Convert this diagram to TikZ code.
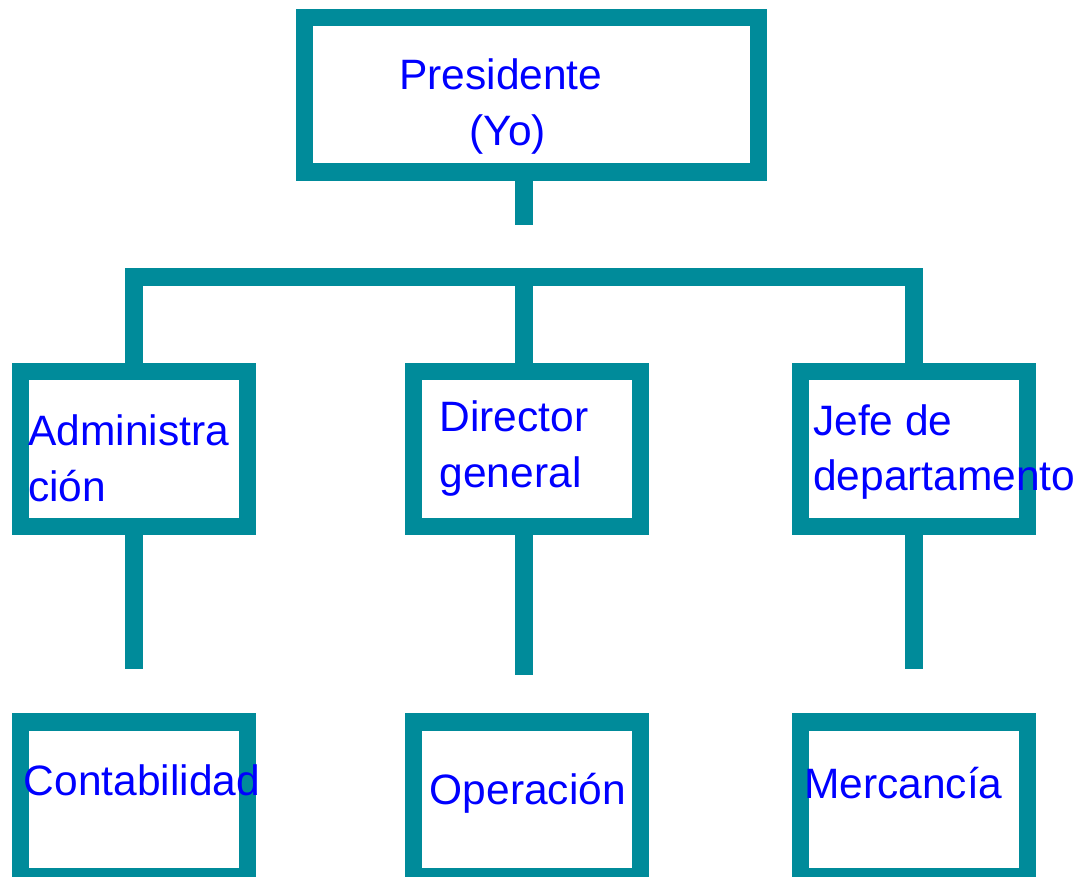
\documentclass[tikz,border=0pt]{standalone}
\usepackage{fontspec}
\setmainfont{Liberation Sans}
\definecolor{teal}{RGB}{0,139,154}
\definecolor{txtblue}{RGB}{0,0,255}
\begin{document}
\begin{tikzpicture}[x=1pt,y=-1pt,
  orgbox/.style={draw=teal,line width=17.4pt,rectangle,inner sep=0pt,minimum width=227pt,minimum height=155pt},
  conn/.style={draw=teal,line width=17.4pt,line cap=butt,line join=miter},
  lbl/.style={text=txtblue,anchor=base west,inner sep=0pt,font=\fontsize{42.5}{56}\selectfont}]
\useasboundingbox (0,0) rectangle (1084,877);
% boxes
\node[orgbox,minimum width=454.4pt,minimum height=154.4pt] (pres) at (531.5,95) {};
\node[orgbox] (adm) at (133.8,448.75) {};
\node[orgbox] (dir) at (527,448.75) {};
\node[orgbox] (jefe) at (913.9,448.75) {};
\node[orgbox] (cont) at (133.8,799.5) {};
\node[orgbox] (oper) at (527,799.5) {};
\node[orgbox] (merc) at (913.9,799.5) {};
% connector coordinates
\coordinate (s0) at (524,225.3);
\coordinate (b1) at (133.8,277);
\coordinate (b2) at (524,277);
\coordinate (b3) at (914,277);
\coordinate (e1) at (133.8,669.3);
\coordinate (e2) at (524,675);
\coordinate (e3) at (914,669.3);
% connectors
\draw[conn] (pres.south -| s0) -- (s0);
\draw[conn] (adm.north -| b1) -- (b1) -- (b3) -- (jefe.north -| b3);
\draw[conn] (b2) -- (dir.north -| b2);
\draw[conn] (adm.south -| e1) -- (e1);
\draw[conn] (dir.south -| e2) -- (e2);
\draw[conn] (jefe.south -| e3) -- (e3);
% labels
\node[lbl] (t1) at (399,90) {Presidente};
\node[lbl] (t2) at (469.5,145.7) {(Yo)};
\node[lbl] (t3) at (28,445) {Administra};
\node[lbl] (t4) at (28,501.7) {ción};
\node[lbl] (t5) at (439.5,431.7) {Director};
\node[lbl] (t6) at (439.5,487.3) {general};
\node[lbl] (t7) at (813,435) {Jefe de};
\node[lbl] (t8) at (813,490) {departamento};
\node[lbl] (t9) at (23.5,795) {Contabilidad};
\node[lbl] (t10) at (429.5,804) {Operación};
\node[lbl] (t11) at (804,798.3) {Mercancía};
\end{tikzpicture}
\end{document}
